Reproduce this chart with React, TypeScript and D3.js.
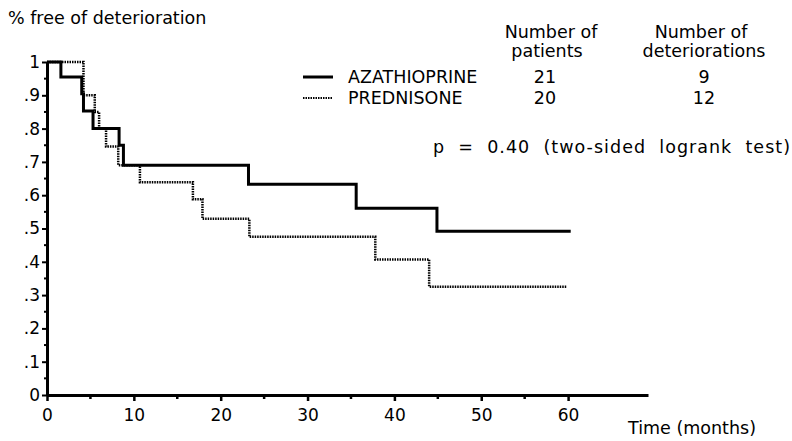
import { useEffect, useRef } from 'react'
import * as d3 from 'd3'

const WIDTH = 792
const HEIGHT = 441
const FONT = '"DejaVu Sans", Verdana, sans-serif'
const TEXT_SIZE = 17.5
const TICK_SIZE = 17

// Kaplan-Meier steps: time of each drop and survival after it
const AZA_TIMES = [1.6, 4.0, 4.2, 5.3, 8.3, 8.8, 23.2, 35.6, 44.9]
const AZA_SURV = [0.955, 0.905, 0.853, 0.8, 0.75, 0.69, 0.633, 0.561, 0.492]
const AZA_END = 60.3

const PRED_TIMES = [4.2, 5.5, 6.0, 6.8, 8.2, 10.7, 16.8, 17.9, 23.3, 37.8, 44.0]
const PRED_SURV = [0.9, 0.85, 0.8, 0.746, 0.69, 0.639, 0.588, 0.529, 0.475, 0.407, 0.325]
const PRED_END = 59.9

const X_TICKS = [0, 10, 20, 30, 40, 50, 60]
const X_MINOR = [5, 15, 25, 35, 45, 55]
const Y_TICKS = [0, 0.1, 0.2, 0.3, 0.4, 0.5, 0.6, 0.7, 0.8, 0.9, 1]
const Y_MINOR = [0.05, 0.15, 0.25, 0.35, 0.45, 0.55, 0.65, 0.75, 0.85, 0.95]
const X_AXIS_MAX = 69.2

const GROUPS = ['AZATHIOPRINE', 'PREDNISONE']
const PATIENTS = [21, 20]
const DETERIORATIONS = [9, 12]

function steps(times: number[], surv: number[], end: number): [number, number][] {
  const pts: [number, number][] = [[0, 1]]
  times.forEach((t, i) => pts.push([t, surv[i]]))
  pts.push([end, surv[surv.length - 1]])
  return pts
}

function yLabel(v: number) {
  if (v === 0) return '0'
  if (v === 1) return '1'
  return '.' + Math.round(v * 10)
}

export default function App() {
  const svgRef = useRef<SVGSVGElement>(null)

  useEffect(() => {
    const svg = d3.select(svgRef.current)
    svg.selectAll('*').remove()

    const x = d3.scaleLinear().domain([0, X_AXIS_MAX]).range([47, 648])
    const y = d3.scaleLinear().domain([0, 1]).range([395, 62])

    const root = svg.attr('viewBox', `0 0 ${WIDTH} ${HEIGHT}`)

    root
      .append('rect')
      .attr('width', WIDTH)
      .attr('height', HEIGHT)
      .attr('fill', '#fff')

    // x axis
    const xAxis = root.append('g').attr('transform', `translate(0,${y(0)})`)
    xAxis
      .call(d3.axisBottom(x).tickValues(X_TICKS).tickSize(6).tickSizeOuter(0).tickFormat(d3.format('d')))
      .call((g) => g.select('.domain').attr('stroke', '#000').attr('stroke-width', 3))
      .call((g) => g.selectAll('.tick line').attr('stroke', '#000').attr('stroke-width', 2.5))
      .call((g) =>
        g
          .selectAll('.tick text')
          .attr('fill', '#000')
          .attr('font-size', TICK_SIZE)
          .attr('font-family', FONT)
          .attr('dy', '1.0em'),
      )
    xAxis
      .append('g')
      .selectAll('line')
      .data(X_MINOR)
      .join('line')
      .attr('x1', (d) => x(d))
      .attr('x2', (d) => x(d))
      .attr('y1', 0)
      .attr('y2', 4)
      .attr('stroke', '#000')
      .attr('stroke-width', 2.5)

    // y axis
    const yAxis = root.append('g').attr('transform', `translate(${x(0)},0)`)
    yAxis
      .call(
        d3
          .axisLeft(y)
          .tickValues(Y_TICKS)
          .tickSize(5)
          .tickSizeOuter(0)
          .tickPadding(2)
          .tickFormat((d) => yLabel(+d)),
      )
      .call((g) => g.select('.domain').attr('stroke', '#000').attr('stroke-width', 3))
      .call((g) => g.selectAll('.tick line').attr('stroke', '#000').attr('stroke-width', 2))
      .call((g) =>
        g.selectAll('.tick text').attr('fill', '#000').attr('font-size', TICK_SIZE).attr('font-family', FONT),
      )
    yAxis
      .append('g')
      .selectAll('line')
      .data(Y_MINOR)
      .join('line')
      .attr('x1', -3)
      .attr('x2', 0)
      .attr('y1', (d) => y(d))
      .attr('y2', (d) => y(d))
      .attr('stroke', '#000')
      .attr('stroke-width', 2)

    const line = d3
      .line<[number, number]>()
      .x((d) => x(d[0]))
      .y((d) => y(d[1]))
      .curve(d3.curveStepAfter)

    root
      .append('path')
      .datum(steps(PRED_TIMES, PRED_SURV, PRED_END))
      .attr('fill', 'none')
      .attr('stroke', '#000')
      .attr('stroke-width', 2.5)
      .attr('stroke-dasharray', '1.5 1')
      .attr('d', line)

    root
      .append('path')
      .datum(steps(AZA_TIMES, AZA_SURV, AZA_END))
      .attr('fill', 'none')
      .attr('stroke', '#000')
      .attr('stroke-width', 3)
      .attr('d', line)

    const text = (tx: number, ty: number, s: string, anchor = 'start', size = TEXT_SIZE) =>
      root
        .append('text')
        .attr('x', tx)
        .attr('y', ty)
        .attr('text-anchor', anchor)
        .attr('font-family', FONT)
        .attr('font-size', size)
        .attr('fill', '#000')
        .text(s)

    text(8, 24, '% free of deterioration')
    text(628, 434, 'Time (months)')

    // legend table
    text(551, 38, 'Number of', 'middle')
    text(547, 57, 'patients', 'middle')
    text(701, 38, 'Number of', 'middle')
    text(704, 57, 'deteriorations', 'middle')

    const rowY = [83, 104]
    GROUPS.forEach((name, i) => {
      const ly = rowY[i] - 6
      const sample = root
        .append('line')
        .attr('x1', 303)
        .attr('x2', 333)
        .attr('y1', ly)
        .attr('y2', ly)
      if (i === 0) {
        sample.attr('stroke', '#000').attr('stroke-width', 3)
      } else {
        sample.attr('stroke', '#000').attr('stroke-width', 2).attr('stroke-dasharray', '1.5 1')
      }
      text(348, rowY[i], name)
      text(545, rowY[i], String(PATIENTS[i]), 'middle')
      text(704, rowY[i], String(DETERIORATIONS[i]), 'middle')
    })

    text(433, 153, 'p  =  0.40  (two-sided  logrank  test)')
      .attr('xml:space', 'preserve')
      .style('white-space', 'pre')
      .attr('textLength', 357)
      .attr('lengthAdjust', 'spacing')
  }, [])

  return (
    <svg
      ref={svgRef}
      width={WIDTH}
      height={HEIGHT}
      style={{ position: 'absolute', left: 0, top: 0, display: 'block' }}
    />
  )
}
